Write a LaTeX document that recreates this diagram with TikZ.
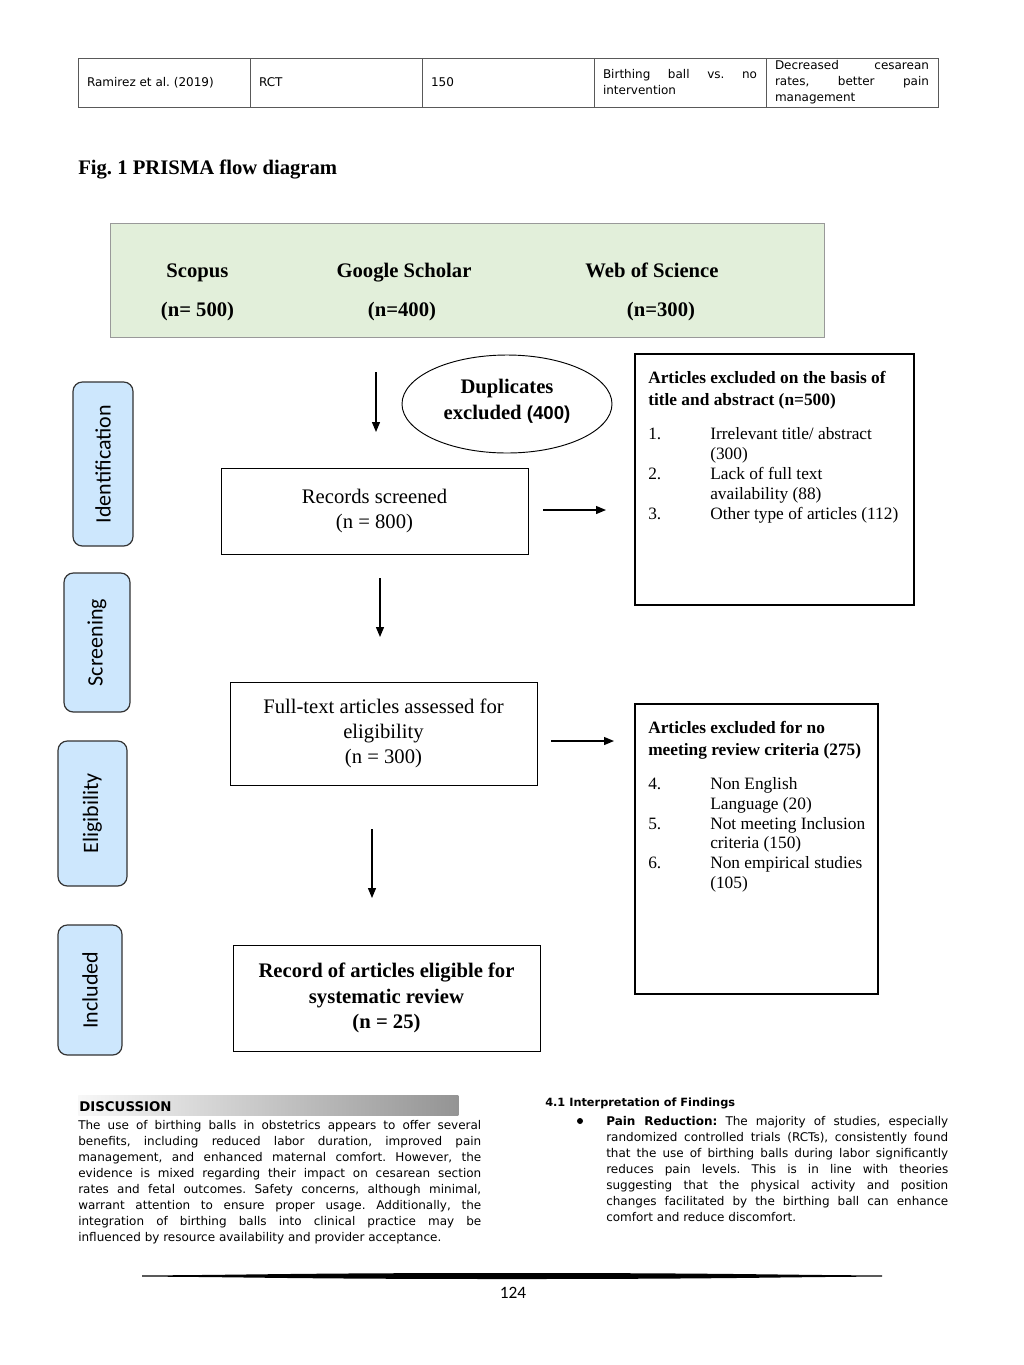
\documentclass[tikz,border=0pt]{standalone}
\usepackage{fontspec}
\setmainfont{Liberation Serif}
\setsansfont{DejaVu Sans}
\newfontfamily\calibrifont{Carlito}
\newfontfamily\arialfont{Liberation Sans}
\usetikzlibrary{arrows.meta}
\usetikzlibrary{shapes.geometric}
\definecolor{sourcegreen}{RGB}{226,239,218}
\definecolor{stageblue}{RGB}{205,231,253}
\tikzset{
	cellstyle/.style={rectangle,draw=black!65,line width=0.6pt,outer sep=0pt,anchor=north west,minimum width=129pt,minimum height=36.75pt,text width=115.5pt,inner xsep=6.75pt,inner ysep=1pt,align=justify,font=\sffamily\fontsize{9}{12}\selectfont},
	sourcestyle/.style={rectangle,draw=black!40,fill=sourcegreen,line width=0.8pt,anchor=north west},
	sourcetext/.style={anchor=base,inner sep=0pt,font=\bfseries\fontsize{15.5}{18}\selectfont},
	flowstyle/.style={rectangle,draw=black,line width=0.7pt,align=center,inner sep=0pt,minimum width=230.25pt,font=\fontsize{15.5}{19}\selectfont},
	dupstyle/.style={ellipse,draw=black,line width=0.7pt,align=center,inner sep=0pt,minimum width=157.5pt,minimum height=73.5pt,font=\bfseries\fontsize{15.5}{19.5}\selectfont},
	exclstyle/.style={rectangle,draw=black,line width=0.8pt,inner sep=0pt},
	exclline/.style={anchor=base west,inner sep=0pt,font=\fontsize{13}{15}\selectfont},
	exclhead/.style={anchor=base west,inner sep=0pt,font=\bfseries\fontsize{13}{15}\selectfont},
	stagestyle/.style={rectangle,rounded corners=7pt,draw=black!80,fill=stageblue,line width=0.9pt,rotate=90,inner sep=0pt,font=\calibrifont\fontsize{16.5}{18}\selectfont},
	flowarrow/.style={-{Triangle[length=7.5pt,width=6pt]},line width=0.9pt},
	bodytext/.style={anchor=north west,inner sep=0pt,align=justify,font=\sffamily\fontsize{9}{12}\selectfont}
}
\begin{document}
\frenchspacing
\begin{tikzpicture}[x=0.75pt,y=-0.75pt]
	\useasboundingbox (0,0) rectangle (1024,1365);
	\fill[white] (0,0) rectangle (1024,1365);
	\node[cellstyle] (author) at (78,58) {Ramirez et al. (2019)};
	\node[cellstyle] (design) at (author.north east) {RCT};
	\node[cellstyle] (size) at (design.north east) {150};
	\node[cellstyle] (compare) at (size.north east) {Birthing ball vs. no\linebreak intervention};
	\node[cellstyle] (outcome) at (compare.north east) {Decreased cesarean\linebreak rates, better pain\linebreak management};
	\node[anchor=base west,inner sep=0pt,font=\bfseries\fontsize{15.5}{18}\selectfont] (caption) at (78,174) {Fig. 1 PRISMA flow diagram};
	\node[sourcestyle,minimum width=535.5pt,minimum height=85.5pt] (sources) at (110,223) {};
	\node[sourcetext] (scopus) at (197.5,277) {Scopus};
	\node[sourcetext] (scopusn) at (197.5,316) {(n= 500)};
	\node[sourcetext] (scholar) at (404,277) {Google Scholar};
	\node[sourcetext] (scholarn) at (402,316) {(n=400)};
	\node[sourcetext] (wos) at (652,277) {Web of Science};
	\node[sourcetext] (wosn) at (661,316) {(n=300)};
	\node[dupstyle,text depth=7.5pt] (dups) at (507,404) {Duplicates\\excluded {\arialfont\fontsize{14}{19.5}\selectfont(400)}};
	\node[flowstyle,minimum height=64.5pt] (screened) at (374.5,511) {Records screened\\(n = 800)};
	\node[flowstyle,minimum height=77.25pt] (fulltext) at (383.5,733.5) {Full-text articles assessed for\\eligibility\\(n = 300)};
	\node[flowstyle,minimum height=79.5pt,font=\bfseries\fontsize{15.5}{19}\selectfont] (eligible) at (386.5,998) {Record of articles eligible for\\systematic review\\(n = 25)};
	\node[exclstyle,minimum width=209.25pt,minimum height=188.25pt] (excl1) at (774.5,479.5) {};
	\node[exclhead] (excl1a) at (648,383) {Articles excluded on the basis of};
	\node[exclhead] (excl1b) at (648,405) {title and abstract (n=500)};
	\node[exclline] (num1) at (648,439) {1.};
	\node[exclline] (item1a) at (710,439) {Irrelevant title/ abstract};
	\node[exclline] (item1b) at (710,459) {(300)};
	\node[exclline] (num2) at (648,479) {2.};
	\node[exclline] (item2a) at (710,479) {Lack of full text};
	\node[exclline] (item2b) at (710,499) {availability (88)};
	\node[exclline] (num3) at (648,519) {3.};
	\node[exclline] (item3a) at (710,519) {Other type of articles (112)};
	\node[exclstyle,minimum width=182.25pt,minimum height=217.5pt] (excl2) at (756.5,849) {};
	\node[exclhead] (excl2a) at (648,733) {Articles excluded for no};
	\node[exclhead] (excl2b) at (648,755) {meeting review criteria (275)};
	\node[exclline] (num4) at (648,789) {4.};
	\node[exclline] (item4a) at (710,789) {Non English};
	\node[exclline] (item4b) at (710,809) {Language (20)};
	\node[exclline] (num5) at (648,829) {5.};
	\node[exclline] (item5a) at (710,829) {Not meeting Inclusion};
	\node[exclline] (item5b) at (710,848) {criteria (150)};
	\node[exclline] (num6) at (648,868) {6.};
	\node[exclline] (item6a) at (710,868) {Non empirical studies};
	\node[exclline] (item6b) at (710,888) {(105)};
	\node[stagestyle,minimum width=123pt,minimum height=45pt] (ident) at (103,464) {Identification};
	\node[stagestyle,minimum width=104.25pt,minimum height=49.5pt] (screen) at (97,642.5) {Screening};
	\node[stagestyle,minimum width=108.75pt,minimum height=51.75pt] (elig) at (92.5,813.5) {Eligibility};
	\node[stagestyle,minimum width=97.5pt,minimum height=48pt] (incl) at (90,990) {Included};
	\coordinate (a1s) at (376,372);
	\coordinate (a1e) at (376,432);
	\coordinate (a2s) at (543,510);
	\coordinate (a2e) at (606,510);
	\coordinate (a3s) at (380,578);
	\coordinate (a3e) at (380,637);
	\coordinate (a4s) at (551,741);
	\coordinate (a4e) at (614,741);
	\coordinate (a5s) at (372,829);
	\coordinate (a5e) at (372,898);
	\draw[flowarrow] (a1s)--(a1e);
	\draw[flowarrow] (a2s)--(a2e);
	\draw[flowarrow] (a3s)--(a3e);
	\draw[flowarrow] (a4s)--(a4e);
	\draw[flowarrow] (a5s)--(a5e);
	\node[anchor=north west,inner sep=0pt,minimum width=285pt,minimum height=15pt,left color=black!3,right color=black!42] (discbar) at (78,1095) {};
	\node[anchor=base west,inner sep=0pt,font=\sffamily\bfseries\fontsize{10}{12}\selectfont] (dischead) at (79,1111) {DISCUSSION};
	\node[bodytext,text width=302.25pt] (disctext) at (78,1120) {The use of birthing balls in obstetrics appears to offer several\linebreak benefits, including reduced labor duration, improved pain\linebreak management, and enhanced maternal comfort. However, the\linebreak evidence is mixed regarding their impact on cesarean section\linebreak rates and fetal outcomes. Safety concerns, although minimal,\linebreak warrant attention to ensure proper usage. Additionally, the\linebreak integration of birthing balls into clinical practice may be\linebreak influenced by resource availability and provider acceptance.};
	\node[anchor=base west,inner sep=0pt,font=\sffamily\bfseries\fontsize{8.5}{12}\selectfont] (findhead) at (545,1106) {4.1 Interpretation of Findings};
	\node[circle,fill=black,inner sep=0pt,minimum size=4.5pt] (bullet) at (580,1121) {};
	\node[bodytext,text width=256.5pt] (findtext) at (606,1116) {\textbf{Pain Reduction:} The majority of studies, especially\linebreak randomized controlled trials (RCTs), consistently found\linebreak that the use of birthing balls during labor significantly\linebreak reduces pain levels. This is in line with theories\linebreak suggesting that the physical activity and position\linebreak changes facilitated by the birthing ball can enhance\linebreak comfort and reduce discomfort.};
	\fill[black] (142,1275.4) .. controls (250,1275) and (290,1273) .. (512,1273) .. controls (734,1273) and (774,1275) .. (882,1275.4) -- (882,1276.6) .. controls (774,1277) and (734,1279) .. (512,1279) .. controls (290,1279) and (250,1277) .. (142,1276.6) -- cycle;
	\node[anchor=base,inner sep=0pt,font=\calibrifont\fontsize{13}{15}\selectfont] (pagenum) at (513,1298) {124};
\end{tikzpicture}
\end{document}
